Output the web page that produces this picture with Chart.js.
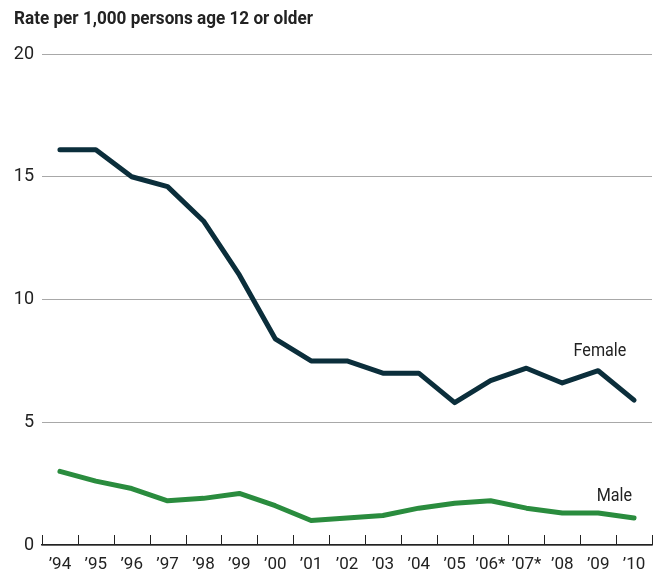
<!DOCTYPE html>
<html>
<head>
<meta charset="utf-8">
<script src="https://cdn.jsdelivr.net/npm/chart.js@4/dist/chart.umd.min.js"></script>
<style>
  html, body { margin: 0; padding: 0; background: #ffffff; }
  #wrap { width: 657px; height: 571px; position: relative; }
</style>
</head>
<body>
<div id="wrap"><canvas id="c" width="657" height="571"></canvas></div>
<script>
const years = ["\u201994","\u201995","\u201996","\u201997","\u201998","\u201999","\u201900","\u201901","\u201902","\u201903","\u201904","\u201905","\u201906*","\u201907*","\u201908","\u201909","\u201910"];
const female = [16.1, 16.1, 15.0, 14.6, 13.2, 11.0, 8.4, 7.5, 7.5, 7.0, 7.0, 5.8, 6.7, 7.2, 6.6, 7.1, 5.9];
const male = [3.0, 2.6, 2.3, 1.8, 1.9, 2.1, 1.6, 1.0, 1.1, 1.2, 1.5, 1.7, 1.8, 1.5, 1.3, 1.3, 1.1];
const yTicks = [0, 5, 10, 15, 20];
const titleText = "Rate per 1,000 persons age 12 or older";
const seriesLabels = [
  { text: "Female", xIndex: 15.05, yValue: 7.9, color: "#222222" },
  { text: "Male", xIndex: 15.45, yValue: 2.0, color: "#222222" }
];

const FONT = "Roboto, 'Open Sans', sans-serif";

const decorPlugin = {
  id: 'decor',
  afterDraw(chart) {
    const ctx = chart.ctx;
    const xs = chart.scales.x, ys = chart.scales.y;
    const area = chart.chartArea;
    ctx.save();
    // tick marks at category boundaries, pointing upward
    ctx.strokeStyle = '#222222';
    ctx.lineWidth = 1;
    for (let i = 0; i <= years.length; i++) {
      const x = Math.round(xs.getPixelForValue(i - 0.5)) + 0.5;
      ctx.beginPath();
      ctx.moveTo(x, area.bottom - 10);
      ctx.lineTo(x, area.bottom);
      ctx.stroke();
    }
    // title
    ctx.fillStyle = '#222222';
    ctx.font = "bold 18px " + FONT;
    ctx.textBaseline = 'alphabetic';
    ctx.textAlign = 'left';
    const w = ctx.measureText(titleText).width;
    const target = 299;
    ctx.save();
    ctx.translate(14, 24);
    ctx.scale(target / w, 1);
    ctx.fillText(titleText, 0, 0);
    ctx.restore();
    // series labels
    ctx.font = "19px " + FONT;
    ctx.textAlign = 'center';
    ctx.textBaseline = 'middle';
    seriesLabels.forEach(l => {
      const x = xs.getPixelForValue(l.xIndex);
      const y = ys.getPixelForValue(l.yValue);
      ctx.save();
      ctx.translate(x, y);
      ctx.scale(0.85, 1);
      ctx.fillStyle = l.color;
      ctx.fillText(l.text, 0, 0);
      ctx.restore();
    });
    ctx.restore();
  }
};

new Chart(document.getElementById('c'), {
  type: 'line',
  data: {
    labels: years,
    datasets: [
      { label: 'Female', data: female, borderColor: '#0b2e3b', borderWidth: 5, pointRadius: 0, tension: 0, borderCapStyle: 'round', borderJoinStyle: 'round', fill: false },
      { label: 'Male', data: male, borderColor: '#2a8c3e', borderWidth: 5, pointRadius: 0, tension: 0, borderCapStyle: 'round', borderJoinStyle: 'round', fill: false }
    ]
  },
  options: {
    responsive: false,
    animation: false,
    devicePixelRatio: 1,
    layout: { padding: { top: 54, right: 5, left: 0, bottom: 0 } },
    plugins: { legend: { display: false }, title: { display: false }, tooltip: { enabled: false } },
    scales: {
      x: {
        offset: true,
        grid: { display: false, offset: true },
        border: { display: true, color: '#222222', width: 1.5 },
        ticks: { color: '#222222', font: { family: FONT, size: 17 }, padding: 2, maxRotation: 0, autoSkip: false },
        afterFit(s) { s.height = 26; }
      },
      y: {
        min: 0, max: 20,
        afterBuildTicks(s) { s.ticks = yTicks.map(v => ({ value: v })); },
        grid: { color: '#a8a8a8', lineWidth: 1, drawTicks: false },
        border: { display: false },
        ticks: { color: '#222222', font: { family: FONT, size: 18 }, padding: 8 },
        afterFit(s) { s.width = 42; }
      }
    }
  },
  plugins: [decorPlugin]
});
</script>
</body>
</html>
